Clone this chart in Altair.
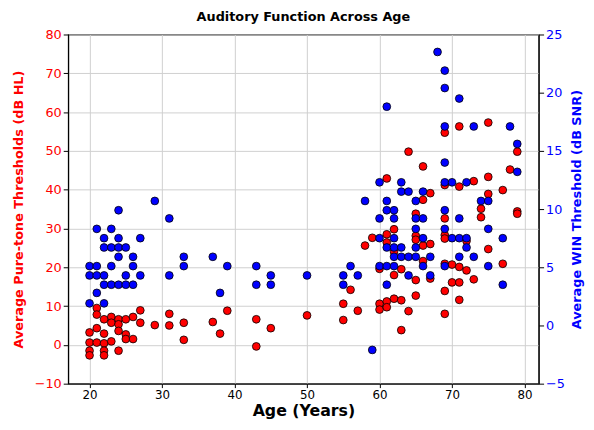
import altair as alt
import pandas as pd

chart_title = "Auditory Function Across Age"
x_title = "Age (Years)"
left_title = "Average Pure-tone Thresholds (dB HL)"
right_title = "Average WIN Threshold (dB SNR)"

x_ticks = [20, 30, 40, 50, 60, 70, 80]
left_ticks = [-10, 0, 10, 20, 30, 40, 50, 60, 70, 80]
right_ticks = [-5, 0, 5, 10, 15, 20, 25]

# Pure-tone thresholds (red, left axis)
pta_age = [20, 20, 20, 20, 21, 21, 21, 21, 22, 22, 22, 22, 22, 23, 23, 23,
           24, 24, 24, 24, 25, 25, 25, 26, 26, 27, 27, 29, 31, 31, 33, 33,
           37, 38, 39, 43, 43, 45, 50, 55, 55, 56, 57, 58, 59, 60, 60, 60,
           61, 61, 61, 61, 61, 62, 62, 62, 62, 63, 63, 63, 64, 64,
           65, 65, 65, 65, 65, 66, 66, 66, 66, 67, 67, 67,
           69, 69, 69, 69, 69, 69, 69, 69, 70, 70, 71, 71, 71, 71, 71,
           72, 72, 73, 73, 74, 74, 75, 75, 75, 75, 77, 77, 78, 79, 79, 79]
pta_val = [3.2, 0.6, -1.5, -2.7, 9.5, 7.8, 4.3, 0.6, 6.6, 2.9, 0.4, -1.5, -2.7, 7.2, 5.7, 0.9,
           6.6, 5.3, 3.6, -1.5, 6.6, 2.7, 1.5, 7.2, 1.5, 8.9, 5.7, 5.1, 8.0, 5.0, 5.7, 1.3,
           5.9, 2.9, 8.8, 6.6, -0.4, 4.3, 7.6, 10.6, 6.4, 14.2, 8.8, 25.6, 27.6, 19.6, 10.6, 9.1,
           42.9, 28.5, 26.4, 11.2, 9.7, 29.8, 24.0, 18.0, 11.9, 19.5, 11.5, 3.8, 49.8, 8.7,
           33.8, 28.1, 27.1, 16.7, 12.7, 46.0, 37.4, 25.6, 21.6, 39.1, 26.0, 17.1,
           54.7, 41.2, 32.6, 28.3, 27.4, 20.9, 13.9, 8.0, 20.7, 16.1, 56.3, 40.8, 20.1, 16.1, 11.6,
           26.8, 19.2, 42.2, 16.9, 35.1, 32.9, 57.3, 43.3, 38.9, 24.7, 39.9, 20.9, 45.2, 49.8, 34.4, 33.8]

# WIN thresholds (blue, right axis)
win_age = [20, 20, 20, 21, 21, 21, 21, 22, 22, 22, 22, 22, 23, 23, 23, 23,
           24, 24, 24, 24, 24, 25, 25, 25, 26, 26, 26, 27, 27, 29, 31, 31,
           33, 33, 37, 38, 39, 43, 43, 45, 45, 50, 55, 55, 56, 57, 58, 59,
           60, 60, 60, 60, 61, 61, 61, 61, 61, 61, 62, 62, 62, 62, 62, 62,
           63, 63, 63, 63, 64, 64, 64, 65, 65, 65, 65, 65, 66, 66, 66, 66, 67, 67, 68,
           69, 69, 69, 69, 69, 69, 69, 69, 70, 70, 71, 71, 71, 71, 72, 72, 72,
           73, 73, 74, 75, 75, 75, 77, 77, 78, 79, 79]
win_val = [5.1, 4.3, 1.9, 8.3, 5.1, 4.3, 2.8, 7.5, 6.7, 4.3, 3.5, 1.9, 8.3, 6.7, 5.1, 3.5,
           9.9, 7.5, 6.7, 5.9, 3.5, 6.7, 4.3, 3.5, 5.9, 5.1, 3.5, 7.5, 4.3, 10.7, 9.2, 4.3,
           5.9, 5.1, 5.9, 2.8, 5.1, 5.1, 3.5, 4.3, 3.5, 4.3, 4.3, 3.5, 5.1, 4.3, 10.7, -2.1,
           12.3, 9.2, 7.5, 5.1, 18.8, 10.7, 9.9, 6.7, 5.1, 3.5, 9.9, 9.2, 7.5, 6.7, 5.9, 5.1,
           12.3, 11.5, 6.7, 5.9, 11.5, 5.9, 4.3, 10.7, 9.2, 8.3, 6.7, 5.9, 11.5, 9.2, 7.5, 5.1, 5.9, 4.3, 23.5,
           21.9, 20.4, 17.1, 14.0, 12.3, 9.9, 8.3, 5.1, 12.3, 7.5, 19.5, 9.2, 7.5, 5.9, 12.3, 7.5, 6.7,
           17.1, 5.9, 10.7, 10.7, 8.3, 5.1, 7.5, 3.5, 17.1, 15.6, 13.2]

pta_df = pd.DataFrame({"age": pta_age, "pta": pta_val})
win_df = pd.DataFrame({"age": win_age, "win": win_val})

FONT = "DejaVu Sans"
RED = "#ff0000"
BLUE = "#0000ff"

x_enc = alt.X(
    "age:Q",
    scale=alt.Scale(domain=[17.05, 81.95], nice=False, zero=False),
    axis=alt.Axis(
        values=x_ticks, title=x_title, titleFontSize=16, titleFontWeight="bold",
        titleColor="black", labelFontSize=12, labelColor="black", grid=True,
        gridColor="#cfcfcf", tickColor="black", domainColor="black", tickSize=4,
        labelPadding=2, labelFont=FONT, titleFont=FONT, titlePadding=2,
    ),
)

red = alt.Chart(pta_df).mark_circle(
    size=62, color=RED, opacity=1, stroke="black", strokeWidth=0.8
).encode(
    x=x_enc,
    y=alt.Y(
        "pta:Q",
        scale=alt.Scale(domain=[-10, 80], nice=False, zero=False),
        axis=alt.Axis(
            values=left_ticks, title=left_title, titleFontSize=13, titleFontWeight="bold",
            titleColor=RED, labelColor=RED, labelFontSize=13, grid=True,
            gridColor="#cfcfcf", tickColor="black", domainColor="black", tickSize=5,
            labelFont=FONT, titleFont=FONT, orient="left", titlePadding=9,
        ),
    ),
)

blue = alt.Chart(win_df).mark_circle(
    size=62, color=BLUE, opacity=1, stroke="black", strokeWidth=0.8
).encode(
    x=x_enc,
    y=alt.Y(
        "win:Q",
        scale=alt.Scale(domain=[-5, 25], nice=False, zero=False),
        axis=alt.Axis(
            values=right_ticks, title=right_title, titleFontSize=13, titleFontWeight="bold",
            titleColor=BLUE, labelColor=BLUE, labelFontSize=13, grid=False,
            tickColor="black", domainColor="black", tickSize=5,
            labelFont=FONT, titleFont=FONT, orient="right", titleAngle=270,
            titleBaseline="top", titlePadding=6,
        ),
    ),
)

chart = alt.layer(red, blue).resolve_scale(y="independent").properties(
    width=477,
    height=354,
    title=alt.TitleParams(chart_title, fontSize=13, fontWeight="bold", font=FONT,
                          anchor="middle", offset=5, color="black"),
    autosize=alt.AutoSizeParams(type="none"),
    padding={"left": 61, "top": 24, "right": 48, "bottom": 36},
).configure_view(stroke="black", strokeWidth=1.2)

chart.save("out.html", embed_options={"renderer": "svg", "actions": False})
